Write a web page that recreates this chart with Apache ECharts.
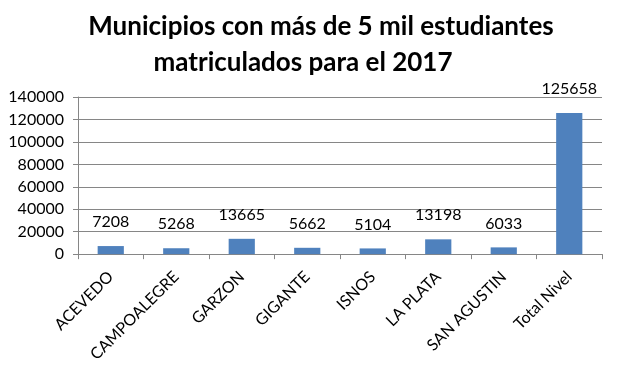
<!DOCTYPE html>
<html><head><meta charset="utf-8">
<script src="https://cdn.jsdelivr.net/npm/echarts@6/dist/echarts.min.js"></script>
<style>html,body{margin:0;padding:0;background:#fff}#c{width:620px;height:365px}</style>
</head><body><div id="c"></div>
<script>
const titleLines = ['Municipios con más de 5 mil estudiantes', 'matriculados para el 2017'];
const categories = ['ACEVEDO', 'CAMPOALEGRE', 'GARZON', 'GIGANTE', 'ISNOS', 'LA PLATA', 'SAN AGUSTIN', 'Total Nivel'];
const values = [7208, 5268, 13665, 5662, 5104, 13198, 6033, 125658];
const yTicks = [0, 20000, 40000, 60000, 80000, 100000, 120000, 140000];

const chart = echarts.init(document.getElementById('c'), null, {renderer: 'canvas'});
const font = 'Lato, "Open Sans", sans-serif';
const titleStyle = {fontFamily: font, fontWeight: 'bold', fontSize: 26, color: '#000'};
chart.setOption({
  animation: false,
  title: [
    {text: titleLines[0], left: 316, textAlign: 'center', top: 9, textStyle: titleStyle},
    {text: titleLines[1], left: 298, textAlign: 'center', top: 45, textStyle: titleStyle}
  ],
  grid: {left: 78, right: 18, top: 97, bottom: 110, containLabel: false},
  xAxis: {
    type: 'category', data: categories,
    axisLine: {lineStyle: {color: '#868686'}},
    axisTick: {show: true, length: 5, alignWithLabel: false, lineStyle: {color: '#868686'}},
    axisLabel: {rotate: 45, fontFamily: font, fontSize: 16, color: '#000', margin: 20, interval: 0}
  },
  yAxis: {
    type: 'value', min: yTicks[0], max: yTicks[yTicks.length - 1], interval: yTicks[1] - yTicks[0],
    axisLine: {show: true, lineStyle: {color: '#868686'}},
    axisTick: {show: true, length: 5, lineStyle: {color: '#868686'}},
    splitLine: {lineStyle: {color: '#868686'}},
    axisLabel: {fontFamily: font, fontSize: 16, color: '#000', margin: 14, formatter: v => String(v)}
  },
  series: [{
    type: 'bar', data: values, barWidth: '40%',
    itemStyle: {color: '#4F81BD'},
    label: {show: true, position: 'top', distance: 16, fontFamily: font, fontSize: 16, color: '#000'}
  }]
});
</script></body></html>
